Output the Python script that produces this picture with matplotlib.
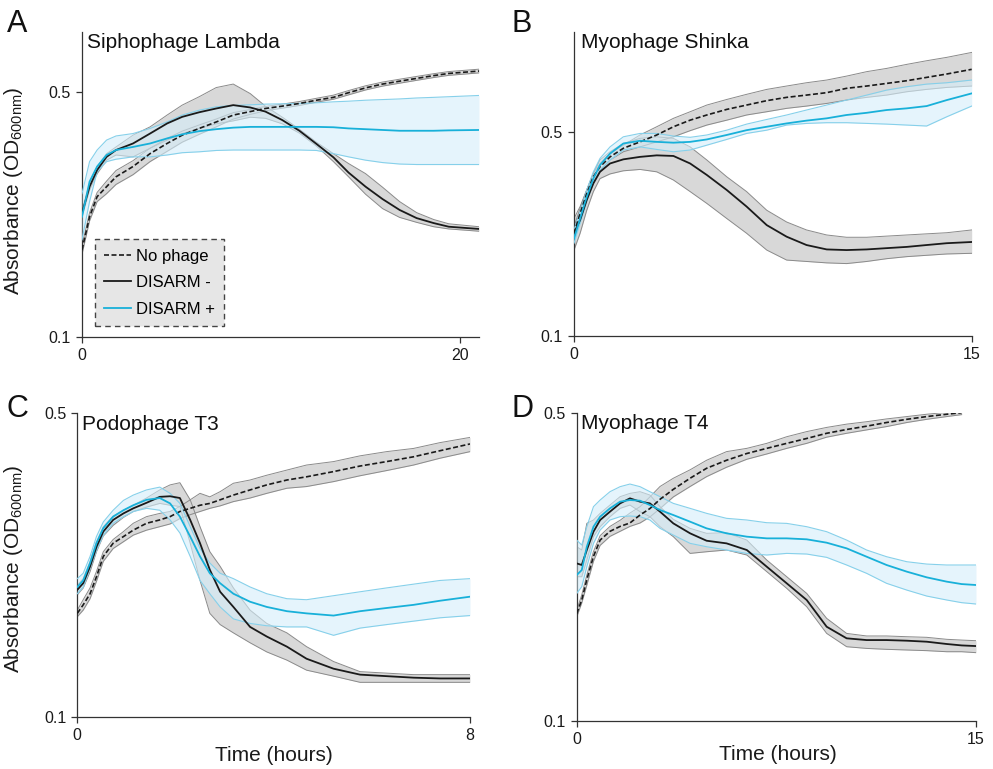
import numpy as np
import matplotlib
matplotlib.use("Agg")
import matplotlib.pyplot as plt

plt.rcParams['font.family'] = ['Liberation Sans', 'DejaVu Sans']
plt.rcParams['mathtext.default'] = 'regular'

nan = np.nan

# ---------------- Panel A: Siphophage Lambda ----------------
tA = [0, 0.4, 0.8, 1.3, 1.8, 2.7, 3.6, 4.5, 5.3, 6.2, 7.1, 8.0, 8.9, 9.7, 10.6,
      11.5, 12.4, 13.3, 14.1, 15.0, 15.9, 16.8, 17.7, 18.6, 19.4, 21.0]
noA_mean = [0.177, 0.220, 0.251, 0.268, 0.286, 0.306, 0.333, 0.356, 0.376, 0.393, 0.410, 0.429, 0.439,
            0.448, 0.455, 0.463, 0.473, 0.482, 0.497, 0.513, 0.526, 0.536, 0.546, 0.556, 0.564, 0.573]
noA_hi = [0.182, 0.226, 0.258, 0.278, 0.298, 0.318, 0.345, 0.368, 0.386, 0.402, 0.418, 0.436, 0.445,
          0.454, 0.461, 0.469, 0.479, 0.489, 0.504, 0.520, 0.533, 0.543, 0.553, 0.563, 0.571, 0.580]
noA_lo = [0.172, 0.214, 0.243, 0.256, 0.272, 0.290, 0.316, 0.338, 0.359, 0.378, 0.397, 0.418, 0.431,
          0.441, 0.449, 0.457, 0.467, 0.476, 0.490, 0.506, 0.519, 0.529, 0.539, 0.549, 0.557, 0.566]
minusA_mean = [0.225, 0.268, 0.299, 0.326, 0.341, 0.356, 0.380, 0.406, 0.424, 0.437, 0.448, 0.458, 0.451,
               0.439, 0.415, 0.387, 0.355, 0.325, 0.294, 0.268, 0.247, 0.230, 0.218, 0.211, 0.206, 0.203]
minusA_hi = [0.230, 0.274, 0.306, 0.333, 0.348, 0.376, 0.397, 0.429, 0.458, 0.484, 0.514, 0.526, 0.494,
             0.455, 0.423, 0.391, 0.359, 0.333, 0.312, 0.292, 0.267, 0.243, 0.226, 0.216, 0.210, 0.206]
minusA_lo = [0.220, 0.262, 0.292, 0.319, 0.330, 0.326, 0.345, 0.364, 0.380, 0.393, 0.405, 0.413, 0.423,
             0.420, 0.405, 0.381, 0.350, 0.316, 0.286, 0.255, 0.232, 0.219, 0.212, 0.206, 0.203, 0.200]
plusA_mean = [0.220, 0.277, 0.306, 0.330, 0.341, 0.348, 0.356, 0.368, 0.378, 0.386, 0.391, 0.395, 0.397,
              0.397, 0.397, 0.397, 0.397, 0.396, 0.393, 0.391, 0.389, 0.387, 0.387, 0.387, 0.388, 0.389]
plusA_hi = [0.256, 0.316, 0.341, 0.364, 0.374, 0.380, 0.393, 0.410, 0.429, 0.443, 0.453, 0.457, 0.459,
            0.461, 0.462, 0.463, 0.465, 0.468, 0.470, 0.473, 0.475, 0.477, 0.480, 0.482, 0.484, 0.488]
plusA_lo = [0.189, 0.243, 0.296, 0.316, 0.321, 0.326, 0.326, 0.330, 0.335, 0.337, 0.340, 0.341, 0.341,
            0.341, 0.341, 0.341, 0.340, 0.333, 0.326, 0.319, 0.314, 0.311, 0.310, 0.310, 0.310, 0.310]

# ---------------- Panel B: Myophage Shinka ----------------
tB = [0, 0.23, 0.48, 0.73, 0.98, 1.36, 1.86, 2.49, 3.12, 3.75, 4.38, 5.01, 5.76, 6.51,
      7.27, 8.02, 8.77, 9.53, 10.28, 11.04, 11.79, 12.55, 13.30, 14.06, 15.0]
noB_mean = [0.225, 0.263, 0.308, 0.352, 0.381, 0.412, 0.441, 0.464, 0.490, 0.523, 0.551, 0.574, 0.600,
            0.621, 0.643, 0.660, 0.672, 0.685, 0.709, 0.722, 0.737, 0.753, 0.773, 0.794, 0.824]
noB_hi = [0.237, 0.274, 0.317, 0.361, 0.391, 0.423, 0.452, 0.490, 0.523, 0.559, 0.589, 0.621, 0.649,
          0.676, 0.703, 0.722, 0.741, 0.757, 0.781, 0.809, 0.830, 0.857, 0.882, 0.906, 0.942]
noB_lo = [0.213, 0.250, 0.297, 0.338, 0.371, 0.402, 0.429, 0.446, 0.464, 0.483, 0.507, 0.530, 0.551,
          0.574, 0.589, 0.605, 0.616, 0.629, 0.646, 0.660, 0.672, 0.690, 0.703, 0.714, 0.722]
minusB_mean = [0.225, 0.250, 0.293, 0.334, 0.366, 0.391, 0.404, 0.412, 0.417, 0.415, 0.391, 0.357, 0.317,
               0.278, 0.240, 0.219, 0.205, 0.198, 0.197, 0.198, 0.200, 0.202, 0.205, 0.208, 0.210]
minusB_hi = [0.253, 0.278, 0.317, 0.361, 0.402, 0.429, 0.458, 0.477, 0.483, 0.477, 0.446, 0.402, 0.352,
             0.313, 0.270, 0.246, 0.231, 0.222, 0.218, 0.218, 0.220, 0.222, 0.224, 0.226, 0.231]
minusB_lo = [0.197, 0.225, 0.270, 0.313, 0.347, 0.360, 0.369, 0.373, 0.366, 0.343, 0.313, 0.285, 0.253,
             0.225, 0.197, 0.182, 0.180, 0.178, 0.177, 0.180, 0.184, 0.187, 0.189, 0.191, 0.192]
plusB_mean = [0.216, 0.253, 0.300, 0.347, 0.386, 0.423, 0.458, 0.468, 0.464, 0.461, 0.464, 0.473, 0.490,
              0.509, 0.523, 0.537, 0.549, 0.559, 0.574, 0.584, 0.597, 0.605, 0.616, 0.646, 0.681]
plusB_hi = [0.231, 0.267, 0.317, 0.366, 0.407, 0.446, 0.483, 0.496, 0.496, 0.486, 0.481, 0.490, 0.509,
            0.534, 0.554, 0.574, 0.597, 0.621, 0.646, 0.672, 0.699, 0.718, 0.733, 0.741, 0.757]
plusB_lo = [0.208, 0.243, 0.289, 0.334, 0.371, 0.402, 0.435, 0.446, 0.437, 0.429, 0.435, 0.452, 0.473,
            0.496, 0.509, 0.530, 0.537, 0.540, 0.540, 0.537, 0.534, 0.530, 0.526, 0.566, 0.616]

# ---------------- Panel C: Podophage T3 ----------------
tC = [0, 0.12, 0.26, 0.39, 0.53, 0.73, 0.94, 1.14, 1.41, 1.68, 1.89, 2.09, 2.30, 2.50,
      2.70, 2.91, 3.18, 3.52, 3.86, 4.27, 4.67, 5.22, 5.76, 6.30, 6.85, 7.39, 8.0]
noC_mean = [0.173, 0.181, 0.192, 0.210, 0.234, 0.251, 0.260, 0.269, 0.279, 0.284, 0.289, 0.297, 0.302, 0.307,
            0.310, 0.316, 0.324, 0.333, 0.342, 0.351, 0.357, 0.367, 0.378, 0.387, 0.397, 0.410, 0.425]
noC_hi = [0.176, 0.186, 0.198, 0.216, 0.240, 0.256, 0.267, 0.279, 0.289, 0.294, 0.297, 0.305, 0.316, 0.327,
          0.321, 0.330, 0.345, 0.351, 0.360, 0.370, 0.380, 0.387, 0.399, 0.408, 0.415, 0.428, 0.440]
noC_lo = [0.170, 0.176, 0.187, 0.205, 0.228, 0.244, 0.253, 0.262, 0.269, 0.274, 0.278, 0.286, 0.292, 0.297,
          0.302, 0.306, 0.313, 0.319, 0.327, 0.336, 0.339, 0.348, 0.359, 0.369, 0.380, 0.394, 0.408]
minusC_mean = [0.196, 0.203, 0.222, 0.246, 0.267, 0.284, 0.294, 0.302, 0.311, 0.321, 0.322, 0.319, 0.284, 0.251,
               0.218, 0.194, 0.179, 0.161, 0.153, 0.145, 0.136, 0.129, 0.125, 0.124, 0.123, 0.1225, 0.1225]
minusC_hi = [0.201, 0.208, 0.228, 0.253, 0.274, 0.290, 0.299, 0.307, 0.319, 0.333, 0.342, 0.346, 0.316, 0.274,
             0.240, 0.222, 0.198, 0.176, 0.164, 0.156, 0.145, 0.134, 0.127, 0.126, 0.125, 0.125, 0.125]
minusC_lo = [0.191, 0.198, 0.216, 0.240, 0.261, 0.276, 0.288, 0.297, 0.304, 0.310, 0.307, 0.305, 0.251, 0.206,
             0.173, 0.163, 0.156, 0.148, 0.141, 0.135, 0.128, 0.124, 0.120, 0.120, 0.120, 0.120, 0.120]
plusC_mean = [0.199, 0.206, 0.226, 0.251, 0.272, 0.289, 0.299, 0.307, 0.316, 0.319, 0.310, 0.289, 0.260, 0.234,
              0.214, 0.203, 0.192, 0.184, 0.179, 0.175, 0.173, 0.171, 0.175, 0.178, 0.181, 0.185, 0.189]
plusC_hi = [0.208, 0.214, 0.234, 0.260, 0.281, 0.299, 0.315, 0.324, 0.333, 0.338, 0.327, 0.310, 0.274, 0.244,
            0.226, 0.214, 0.208, 0.199, 0.192, 0.187, 0.186, 0.190, 0.194, 0.198, 0.202, 0.206, 0.208]
plusC_lo = [0.192, 0.199, 0.220, 0.242, 0.262, 0.279, 0.289, 0.297, 0.302, 0.299, 0.284, 0.265, 0.234, 0.206,
            0.192, 0.179, 0.168, 0.164, 0.162, 0.161, 0.161, 0.154, 0.160, 0.163, 0.166, 0.169, 0.171]

# ---------------- Panel D: Myophage T4 ----------------
tD = [0, 0.19, 0.38, 0.63, 0.88, 1.25, 1.63, 2.00, 2.38, 2.75, 3.13, 3.63, 4.26, 4.88,
      5.63, 6.39, 7.14, 7.89, 8.64, 9.39, 10.14, 10.89, 11.64, 12.40, 13.15, 13.90, 14.46, 15.0]
noD_mean = [0.175, 0.188, 0.209, 0.236, 0.257, 0.269, 0.276, 0.281, 0.293, 0.303, 0.318, 0.335, 0.355, 0.374,
            0.390, 0.404, 0.415, 0.426, 0.437, 0.449, 0.458, 0.466, 0.475, 0.483, 0.490, 0.496, 0.500, nan]
noD_hi = [0.178, 0.193, 0.214, 0.242, 0.263, 0.276, 0.285, 0.296, 0.306, 0.322, 0.340, 0.355, 0.371, 0.390,
          0.408, 0.415, 0.426, 0.441, 0.453, 0.463, 0.471, 0.477, 0.484, 0.490, 0.496, 0.501, 0.505, nan]
noD_lo = [0.172, 0.185, 0.203, 0.230, 0.250, 0.262, 0.269, 0.276, 0.281, 0.290, 0.303, 0.322, 0.340, 0.358,
          0.376, 0.392, 0.403, 0.415, 0.426, 0.440, 0.449, 0.457, 0.465, 0.475, 0.483, 0.490, 0.495, nan]
minusD_mean = [0.2275, 0.2256, 0.244, 0.2685, 0.2854, 0.2981, 0.3113, 0.3196, 0.3141, 0.3113, 0.2981, 0.2804,
               0.2662, 0.2561, 0.2526, 0.244, 0.2236, 0.205, 0.1879, 0.1634, 0.1538, 0.1524, 0.1524, 0.1519,
               0.1511, 0.1493, 0.1482, 0.1477]
minusD_hi = [0.2482, 0.244, 0.2804, 0.2854, 0.2955, 0.3086, 0.3224, 0.328, 0.3309, 0.3252, 0.306, 0.2864,
             0.2732, 0.2662, 0.2671, 0.257, 0.2315, 0.2122, 0.1945, 0.1707, 0.1578, 0.1557, 0.1557, 0.1551,
             0.1546, 0.153, 0.1524, 0.1519]
minusD_lo = [0.2122, 0.2122, 0.2315, 0.2616, 0.2756, 0.2904, 0.3033, 0.3086, 0.2981, 0.2904, 0.2756, 0.2616,
             0.2397, 0.2418, 0.244, 0.2377, 0.2179, 0.1997, 0.1814, 0.1578, 0.1472, 0.1459, 0.1452, 0.1447,
             0.1442, 0.1434, 0.1434, 0.1427]
plusD_mean = [0.2141, 0.2197, 0.2482, 0.2756, 0.2904, 0.3033, 0.3141, 0.3168, 0.3157, 0.3086, 0.3007, 0.2929,
              0.2829, 0.2732, 0.2662, 0.2616, 0.2593, 0.2593, 0.258, 0.2535, 0.2461, 0.2356, 0.2256, 0.2179,
              0.2115, 0.2068, 0.2042, 0.2032]
plusD_hi = [0.257, 0.2504, 0.2756, 0.306, 0.3168, 0.3309, 0.3397, 0.3444, 0.3397, 0.3309, 0.3224, 0.3113,
            0.3033, 0.2955, 0.2879, 0.2854, 0.2814, 0.2804, 0.2756, 0.2685, 0.257, 0.244, 0.2356, 0.2295,
            0.2267, 0.2256, 0.2256, 0.2256]
plusD_lo = [0.1945, 0.2014, 0.2236, 0.2526, 0.2708, 0.2854, 0.2904, 0.2914, 0.2904, 0.2854, 0.2732, 0.2638,
            0.2526, 0.2482, 0.244, 0.2397, 0.2377, 0.2397, 0.2389, 0.2348, 0.2256, 0.216, 0.205, 0.1979,
            0.1918, 0.1879, 0.1853, 0.184]

series_labels = ["No phage", "DISARM -", "DISARM +"]
panel_titles = ["Siphophage Lambda", "Myophage Shinka", "Podophage T3", "Myophage T4"]
panel_letters = ["A", "B", "C", "D"]
xticks = [[0, 20], [0, 15], [0, 8], [0, 15]]
xlims = [21.0, 15.0, 8.0, 15.0]
ytops = [0.742, 1.11, 0.5, 0.5]

BLACK = "#1a1a1a"
CYAN = "#18b0d9"
GREY_FILL = "#d4d4d4"
GREY_EDGE = "#8a8a8a"
BLUE_FILL = "#d5eefa"
BLUE_EDGE = "#86d0ea"

fig = plt.figure(figsize=(9.93, 7.69), dpi=100)
W, H = 993.0, 769.0
rects_px = [(82, 31.7, 479, 336.7), (574, 31.7, 971.7, 335.7),
            (77.3, 413.3, 470, 716.7), (576.7, 412.7, 976, 720.7)]

panels = [
    (tA, noA_mean, noA_lo, noA_hi, minusA_mean, minusA_lo, minusA_hi, plusA_mean, plusA_lo, plusA_hi),
    (tB, noB_mean, noB_lo, noB_hi, minusB_mean, minusB_lo, minusB_hi, plusB_mean, plusB_lo, plusB_hi),
    (tC, noC_mean, noC_lo, noC_hi, minusC_mean, minusC_lo, minusC_hi, plusC_mean, plusC_lo, plusC_hi),
    (tD, noD_mean, noD_lo, noD_hi, minusD_mean, minusD_lo, minusD_hi, plusD_mean, plusD_lo, plusD_hi),
]

axes = []
for i, (x0, y0, x1, y1) in enumerate(rects_px):
    ax = fig.add_axes([x0 / W, (H - y1) / H, (x1 - x0) / W, (y1 - y0) / H])
    axes.append(ax)
    t, nm, nl, nh, mm, ml, mh, pm, pl, ph = panels[i]
    t = np.array(t)
    nm, nl, nh = map(np.array, (nm, nl, nh))

    # grey bands
    ax.fill_between(t, nl, nh, color=GREY_FILL, alpha=0.9, lw=0, zorder=1)
    ax.fill_between(t, ml, mh, color=GREY_FILL, alpha=0.9, lw=0, zorder=1)
    for arr in (nl, nh, ml, mh):
        ax.plot(t, arr, color=GREY_EDGE, lw=0.7, zorder=2)
    # blue band
    ax.fill_between(t, pl, ph, color=BLUE_FILL, alpha=0.6, lw=0, zorder=3)
    for arr in (pl, ph):
        ax.plot(t, arr, color=BLUE_EDGE, lw=0.8, zorder=3)

    l1, = ax.plot(t, nm, color=BLACK, lw=1.2, ls=(0, (3, 1.5)), zorder=5, label=series_labels[0])
    l2, = ax.plot(t, mm, color=BLACK, lw=1.3, zorder=5, label=series_labels[1])
    l3, = ax.plot(t, pm, color=CYAN, lw=1.3, zorder=5, label=series_labels[2])

    ax.set_yscale('log')
    ax.set_ylim(0.1, ytops[i])
    ax.set_xlim(0, xlims[i])
    ax.set_yticks([0.1, 0.5])
    ax.set_yticklabels(["0.1", "0.5"])
    ax.yaxis.set_minor_locator(matplotlib.ticker.NullLocator())
    ax.set_xticks(xticks[i])
    ax.set_xticklabels([str(v) for v in xticks[i]])
    for s in ('top', 'right'):
        ax.spines[s].set_visible(False)
    for s in ('left', 'bottom'):
        ax.spines[s].set_color('#333333')
        ax.spines[s].set_linewidth(0.9)
    ax.tick_params(axis='both', direction='out', length=4, width=0.9, colors='#333333',
                   labelsize=11.5, labelcolor='#1a1a1a', pad=4)
    ax.text(0.012 if i != 1 else 0.018, 0.995, panel_titles[i], transform=ax.transAxes,
            ha='left', va='top', fontsize=15, color='#111111')

    if i == 0:
        leg = ax.legend(handles=[l1, l2, l3], loc='lower left', bbox_to_anchor=(0.033, 0.035),
                        borderaxespad=0, fontsize=12, frameon=True, fancybox=False,
                        facecolor='#e6e6e6', edgecolor='#444444', framealpha=1,
                        handlelength=1.6, handletextpad=0.3, labelspacing=0.7, borderpad=0.55)
        leg.get_frame().set_linestyle((0, (4, 3)))
        leg.get_frame().set_linewidth(1.0)

ylabel = "Absorbance (OD$_{600nm}$)"
for i in (0, 2):
    axes[i].set_ylabel(ylabel, fontsize=15, color='#1a1a1a')
axes[0].yaxis.set_label_coords(-0.143, 0.479)
axes[2].yaxis.set_label_coords(-0.133, 0.487)
for i in (2, 3):
    axes[i].set_xlabel("Time (hours)", fontsize=15, color='#1a1a1a')
axes[2].xaxis.set_label_coords(0.5, -0.095)
axes[3].xaxis.set_label_coords(0.505, -0.079)

letter_pos = [(7, 9), (511, 9), (7, 394), (511, 394)]
for (px, py), L in zip(letter_pos, panel_letters):
    fig.text(px / W, 1 - py / H, L, ha='left', va='top', fontsize=22, color='#111111')

fig.savefig("out.png", dpi=100)
